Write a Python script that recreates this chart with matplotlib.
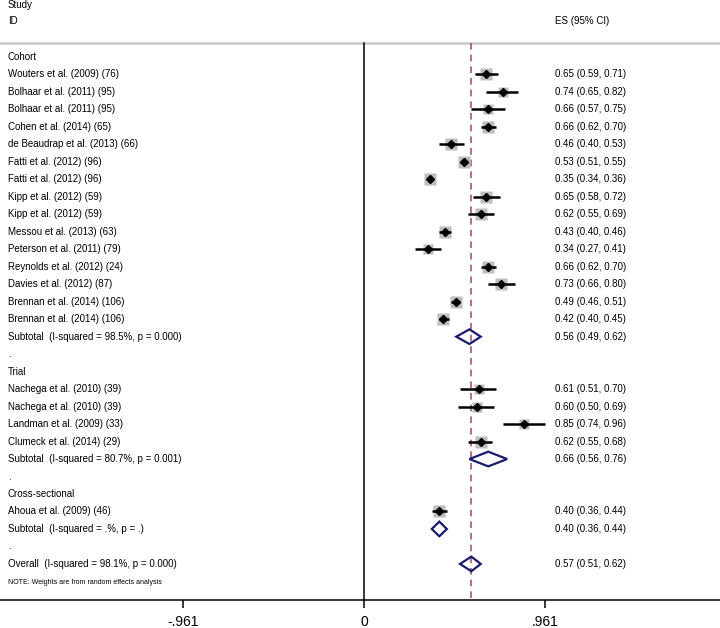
import matplotlib
matplotlib.use("Agg")
import matplotlib.pyplot as plt
from matplotlib.patches import Polygon
import numpy as np

plt.rcParams['font.family'] = ['Liberation Sans', 'DejaVu Sans']

# ---- data ----
cohort_labels = ["Wouters et al. (2009) (76)", "Bolhaar et al. (2011) (95)", "Bolhaar et al. (2011) (95)",
                 "Cohen et al. (2014) (65)", "de Beaudrap et al. (2013) (66)", "Fatti et al. (2012) (96)",
                 "Fatti et al. (2012) (96)", "Kipp et al. (2012) (59)", "Kipp et al. (2012) (59)",
                 "Messou et al. (2013) (63)", "Peterson et al. (2011) (79)", "Reynolds et al. (2012) (24)",
                 "Davies et al. (2012) (87)", "Brennan et al. (2014) (106)", "Brennan et al. (2014) (106)"]
cohort_es = [0.65, 0.74, 0.66, 0.66, 0.46, 0.53, 0.35, 0.65, 0.62, 0.43, 0.34, 0.66, 0.73, 0.49, 0.42]
cohort_lo = [0.59, 0.65, 0.57, 0.62, 0.40, 0.51, 0.34, 0.58, 0.55, 0.40, 0.27, 0.62, 0.66, 0.46, 0.40]
cohort_hi = [0.71, 0.82, 0.75, 0.70, 0.53, 0.55, 0.36, 0.72, 0.69, 0.46, 0.41, 0.70, 0.80, 0.51, 0.45]
cohort_w = [4.3, 4.0, 4.0, 4.5, 4.2, 4.7, 4.7, 4.2, 4.2, 4.5, 4.1, 4.5, 4.2, 4.6, 4.6]

trial_labels = ["Nachega et al. (2010) (39)", "Nachega et al. (2010) (39)",
                "Landman et al. (2009) (33)", "Clumeck et al. (2014) (29)"]
trial_es = [0.61, 0.60, 0.85, 0.62]
trial_lo = [0.51, 0.50, 0.74, 0.55]
trial_hi = [0.70, 0.69, 0.96, 0.68]
trial_w = [4.0, 4.0, 3.5, 4.3]

cross_labels = ["Ahoua et al. (2009) (46)"]
cross_es = [0.40]
cross_lo = [0.36]
cross_hi = [0.44]
cross_w = [4.5]

subtotal_labels = ["Subtotal  (I-squared = 98.5%, p = 0.000)",
                   "Subtotal  (I-squared = 80.7%, p = 0.001)",
                   "Subtotal  (I-squared = .%, p = .)"]
subtotal_es = [0.56, 0.66, 0.40]
subtotal_lo = [0.49, 0.56, 0.36]
subtotal_hi = [0.62, 0.76, 0.44]

overall_label = "Overall  (I-squared = 98.1%, p = 0.000)"
overall_es, overall_lo, overall_hi = 0.57, 0.51, 0.62

group_names = ["Cohort", "Trial", "Cross-sectional"]
tick_vals = [-0.961, 0, 0.961]
tick_labels = ["-.961", "0", ".961"]

# ---- figure ----
W, H = 720, 628
fig = plt.figure(figsize=(W / 100, H / 100), dpi=100)
ax_bottom_px = 600
ax = fig.add_axes([0, (H - ax_bottom_px) / H, 1, ax_bottom_px / H])
ppu = 188.3
x0 = 364
ax.set_xlim((0 - x0) / ppu, (W - x0) / ppu)
row_px = 17.48
row0_px = 57
ax.set_ylim((ax_bottom_px - row0_px) / row_px, (0 - row0_px) / row_px)

for s in ["top", "left", "right"]:
    ax.spines[s].set_visible(False)
ax.spines["bottom"].set_linewidth(1.1)
ax.set_yticks([])
ax.set_xticks(tick_vals)
ax.set_xticklabels(tick_labels, fontsize=10)
ax.tick_params(axis="x", direction="out", length=6, width=1.1, pad=5)

lab_x = (8 - x0) / ppu
es_x = (555 - x0) / ppu
fs = 7.0

def fmt(e, l, h):
    return f"{e:.2f} ({l:.2f}, {h:.2f})"

def study(y, label, e, l, h, w):
    side_px = 11.5 * np.sqrt(w / 4.5)
    ax.plot([l, h], [y, y], color="black", lw=1.8, zorder=3, solid_capstyle="butt")
    ax.plot([e], [y], marker="s", ms=side_px * 0.72, color="#bdbdbd", mec="none", zorder=2)
    ax.plot([e], [y], marker="D", ms=4.2, color="black", zorder=4)
    ax.text(lab_x, y, label, fontsize=fs, va="center", ha="left")
    ax.text(es_x, y, fmt(e, l, h), fontsize=fs, va="center", ha="left")

def diamond(y, label, e, l, h):
    hh = 0.42
    poly = Polygon([[l, y], [e, y - hh], [h, y], [e, y + hh]], closed=True,
                   fill=False, edgecolor="#1b1b6b", lw=1.6, zorder=4)
    ax.add_patch(poly)
    ax.text(lab_x, y, label, fontsize=fs, va="center", ha="left")
    ax.text(es_x, y, fmt(e, l, h), fontsize=fs, va="center", ha="left")

# headers
ax.text(lab_x, (5 - row0_px) / row_px, "Study", fontsize=fs, va="center", ha="left")
ax.text(lab_x, (21 - row0_px) / row_px, "ID", fontsize=fs, va="center", ha="left")
ax.text(es_x, (21 - row0_px) / row_px, "ES (95% CI)", fontsize=fs, va="center", ha="left")
top_line = (43 - row0_px) / row_px
ax.axhline(top_line, color="#c8c8c8", lw=1.8, zorder=1)

ybot = (ax_bottom_px - row0_px) / row_px
ax.plot([0, 0], [top_line, ybot], color="black", lw=1.1, zorder=1)
ax.plot([overall_es, overall_es], [top_line, ybot], color="#a35a70", lw=1.2,
        ls=(0, (4, 3)), zorder=1)

groups = [
    (cohort_labels, cohort_es, cohort_lo, cohort_hi, cohort_w),
    (trial_labels, trial_es, trial_lo, trial_hi, trial_w),
    (cross_labels, cross_es, cross_lo, cross_hi, cross_w),
]
row = 0
for gi, (labs, es, lo, hi, ws) in enumerate(groups):
    ax.text(lab_x, row, group_names[gi], fontsize=fs, va="center", ha="left")
    row += 1
    for lab, e, l, h, w in zip(labs, es, lo, hi, ws):
        study(row, lab, e, l, h, w)
        row += 1
    diamond(row, subtotal_labels[gi], subtotal_es[gi], subtotal_lo[gi], subtotal_hi[gi])
    row += 1
    ax.text(lab_x, row, ".", fontsize=fs, va="center", ha="left")
    row += 1

diamond(row, overall_label, overall_es, overall_lo, overall_hi)
row += 1
ax.text(lab_x, row + 0.05, "NOTE: Weights are from random effects analysis", fontsize=5.0,
        va="center", ha="left")

fig.savefig("out.png", dpi=100)
